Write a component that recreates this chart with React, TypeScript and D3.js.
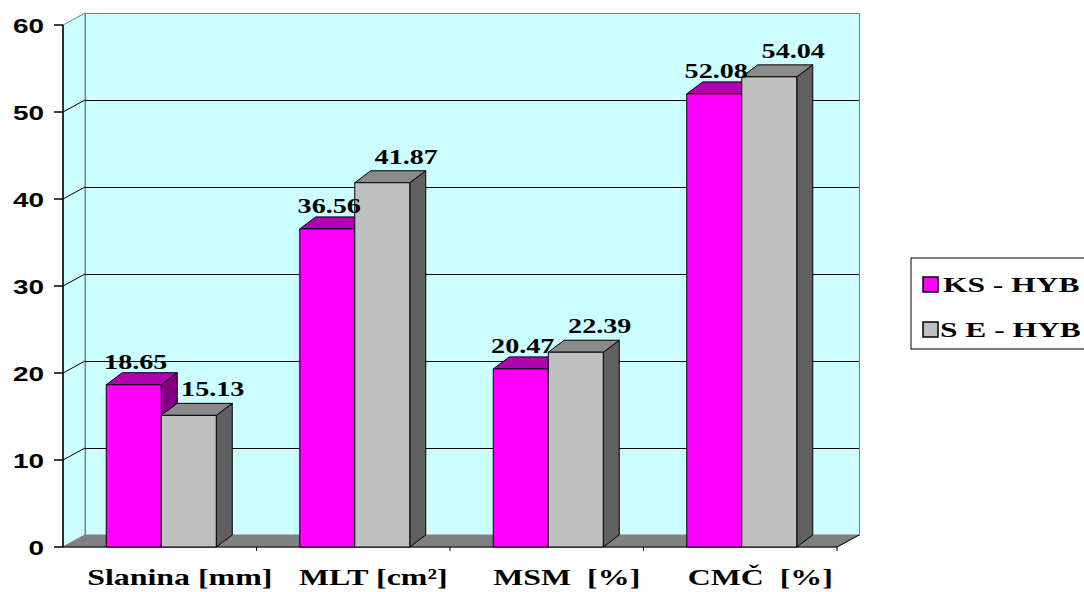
import React from "react";
import * as d3 from "d3";

// Chart data
const categories = ["Slanina [mm]", "MLT [cm²]", "MSM  [%]", "CMČ  [%]"];
const seriesNames = ["KS - HYB", "S E - HYB"];
const ksValues = [18.65, 36.56, 20.47, 52.08];
const seValues = [15.13, 41.87, 22.39, 54.04];
const yTicks = [0, 10, 20, 30, 40, 50, 60];

const W = 1084;
const H = 592;

// Front plane of the plot box
const X0 = 63;
const X1 = 837;
const Y0 = 547;
const Y1 = 25;
// Oblique depth of the walls / floor and of the columns
const FDX = 22;
const FDY = -12;
const BDX = 16;
const BDY = -12;

const SERIF = "Liberation Serif";
const SANS = "Liberation Sans";

const seriesStyle = [
  { front: "#FF00FF", top: "#B000B0", side: "#800080", lx: 2, ly: -16 },
  { front: "#C0C0C0", top: "#8A8A8A", side: "#606060", lx: 24, ly: -19 },
];

export default function App() {
  const y = d3.scaleLinear().domain([0, 60]).range([Y0, Y1]);
  const x0 = d3.scaleBand<string>().domain(categories).range([X0, X1]).padding(0);
  const barW = 55;
  const x1 = d3
    .scaleBand<string>()
    .domain(seriesNames)
    .range([0, barW * seriesNames.length])
    .padding(0);
  const groupOffset = (x0.bandwidth() - barW * seriesNames.length) / 2 + 1.5;
  const values = [ksValues, seValues];

  const gridTicks = yTicks.filter((t) => t > 0 && t < 60);

  const bars: React.ReactNode[] = [];
  const labels: React.ReactNode[] = [];
  categories.forEach((cat, ci) => {
    seriesNames.forEach((s, si) => {
      const v = values[si][ci];
      const st = seriesStyle[si];
      const x = (x0(cat) as number) + groupOffset + (x1(s) as number);
      const w = x1.bandwidth();
      const top = y(v);
      const base = y(0);
      bars.push(
        <g key={`b-${ci}-${si}`} stroke="#000" strokeWidth={1} strokeLinejoin="round">
          <polygon
            points={`${x + w},${top} ${x + w + BDX},${top + BDY} ${x + w + BDX},${base + BDY} ${x + w},${base}`}
            fill={st.side}
          />
          <polygon
            points={`${x},${top} ${x + BDX},${top + BDY} ${x + w + BDX},${top + BDY} ${x + w},${top}`}
            fill={st.top}
          />
          <rect x={x} y={top} width={w} height={base - top} fill={st.front} />
        </g>
      );
      labels.push(
        <text
          key={`l-${ci}-${si}`}
          transform={`translate(${x + w / 2 + st.lx},${top + st.ly}) scale(1.28,1)`}
          textAnchor="middle"
          fontFamily={SERIF}
          fontWeight="bold"
          fontSize={22}
          fill="#000"
        >
          {v.toFixed(2)}
        </text>
      );
    });
  });

  return (
    <svg
      width={W}
      height={H}
      style={{ position: "absolute", left: 0, top: 0, background: "#fff" }}
    >
      <rect x={0} y={0} width={W} height={H} fill="#fff" />

      {/* back wall */}
      <rect
        x={X0 + FDX}
        y={Y1 + FDY}
        width={X1 - X0}
        height={Y0 - Y1}
        fill="#CCFFFF"
        stroke="#808080"
        strokeWidth={1}
        shapeRendering="crispEdges"
      />
      {/* left wall */}
      <polygon
        points={`${X0},${Y1} ${X0 + FDX},${Y1 + FDY} ${X0 + FDX},${Y0 + FDY} ${X0},${Y0}`}
        fill="#CCFFFF"
        stroke="#808080"
        strokeWidth={1}
      />
      {/* gridlines */}
      {gridTicks.map((t) => (
        <g key={`g-${t}`} stroke="#000" strokeWidth={1} fill="none">
          <line x1={X0} y1={y(t)} x2={X0 + FDX} y2={y(t) + FDY} />
          <line
            x1={X0 + FDX}
            y1={y(t) + FDY + 0.5}
            x2={X1 + FDX}
            y2={y(t) + FDY + 0.5}
            shapeRendering="crispEdges"
          />
        </g>
      ))}
      {/* floor */}
      <polygon
        points={`${X0},${Y0} ${X1},${Y0} ${X1 + FDX},${Y0 + FDY} ${X0 + FDX},${Y0 + FDY}`}
        fill="#808080"
        stroke="#808080"
        strokeWidth={1}
      />
      <polyline
        points={`${X0},${Y0} ${X1},${Y0} ${X1 + FDX},${Y0 + FDY}`}
        fill="none"
        stroke="#000"
        strokeWidth={1}
      />
      {/* category ticks */}
      {categories.map((c) => {
        const xe = (x0(c) as number) + x0.bandwidth();
        return <line key={`ct-${c}`} x1={xe} x2={xe} y1={Y0} y2={Y0 + 4} stroke="#000" />;
      })}

      {/* value axis */}
      <line x1={X0} x2={X0} y1={Y1} y2={Y0} stroke="#000" strokeWidth={1.5} />
      {yTicks.map((t) => (
        <g key={`yt-${t}`}>
          <line x1={X0 - 9} x2={X0} y1={y(t)} y2={y(t)} stroke="#000" strokeWidth={1.5} />
          <text
            transform={`translate(44,${y(t) + 7.5}) scale(1.33,1)`}
            textAnchor="end"
            fontFamily={SANS}
            fontWeight="bold"
            fontSize={21}
            fill="#000"
          >
            {t}
          </text>
        </g>
      ))}

      {bars}
      {labels}

      {/* category labels */}
      {categories.map((c) => (
        <text
          key={`cl-${c}`}
          transform={`translate(${(x0(c) as number) + x0.bandwidth() / 2 + 20},585) scale(1.33,1)`}
          textAnchor="middle"
          fontFamily={SERIF}
          fontWeight="bold"
          fontSize={24}
          fill="#000"
          style={{ whiteSpace: "pre" }}
        >
          {c}
        </text>
      ))}

      {/* legend */}
      <rect x={911} y={258} width={200} height={91} fill="#fff" stroke="#000" strokeWidth={1} />
      {seriesNames.map((s, i) => (
        <g key={`lg-${s}`}>
          <rect
            x={923}
            y={277 + i * 45}
            width={15}
            height={15}
            fill={seriesStyle[i].front}
            stroke="#000"
            strokeWidth={1.5}
          />
          <text
            transform={`translate(${i === 0 ? 943 : 940},${292 + i * 45}) scale(1.5,1)`}
            fontFamily={SERIF}
            fontWeight="bold"
            fontSize={21}
            fill="#000"
            style={{ whiteSpace: "pre" }}
          >
            {s}
          </text>
        </g>
      ))}
    </svg>
  );
}
